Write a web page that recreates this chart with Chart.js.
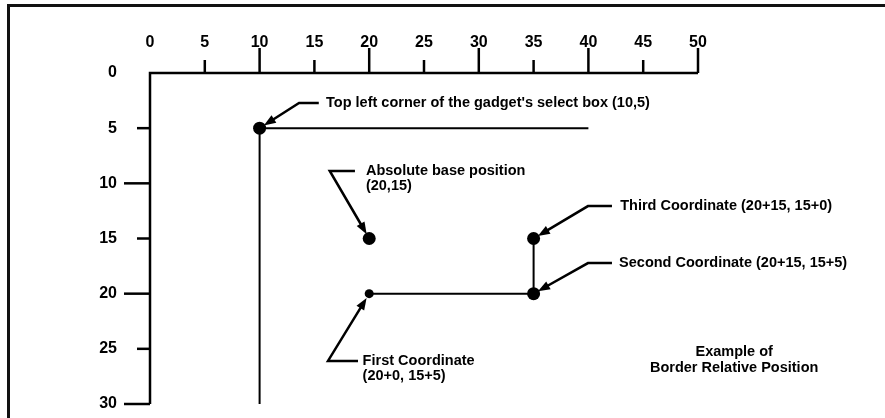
<!DOCTYPE html>
<html><head><meta charset="utf-8">
<script src="https://cdn.jsdelivr.net/npm/chart.js@4/dist/chart.umd.min.js"></script>
<style>html,body{margin:0;padding:0;background:#fff;overflow:hidden}canvas{display:block}</style>
</head><body>
<canvas id="c" width="885" height="418"></canvas>
<script>
// ---- data ----
const xTickValues = [0,5,10,15,20,25,30,35,40,45,50];
const yTickValues = [0,5,10,15,20,25,30];
const selectBoxX = [40,10,10];
const selectBoxY = [5,5,30];
const coordPathX = [20,35,35];
const coordPathY = [20,20,15];
const bigDotX = [10,20,35,35];
const bigDotY = [5,15,20,15];
const smallDotX = [20];
const smallDotY = [20];
const noteTexts = [
  ["Top left corner of the gadget's select box (10,5)"],
  ["Absolute base position","(20,15)"],
  ["Third Coordinate (20+15, 15+0)"],
  ["Second Coordinate (20+15, 15+5)"],
  ["First Coordinate","(20+0, 15+5)"]
];
const noteTargetX = [10,20,35,35,20];
const noteTargetY = [5,15,15,20,20];
const captionText = ["Example of","Border Relative Position"];

// ---- annotation layout (data units) ----
const noteLayout = [
  {ex:13.6, ey:2.72, hx:15.4, tx:16.06},
  {ex:16.4, ey:8.88, hx:18.7, tx:19.7},
  {ex:39.96, ey:12.06, hx:42.15, tx:42.9},
  {ex:39.96, ey:17.23, hx:42.15, tx:42.8},
  {ex:16.24, ey:26.1, hx:18.98, tx:19.4}
];
const captionPos = {x:53.3, y:25.3};

const toPts = (xs, ys) => xs.map((x,i)=>({x, y: ys[i]}));
const tickFont = {family:"'Liberation Sans',Arial,sans-serif", weight:'bold', size:16};
const noteFont = "bold 14.5px 'Liberation Sans', Arial, sans-serif";

const decor = {
  id:'decor',
  beforeDraw(chart){
    const ctx = chart.ctx;
    ctx.save();
    ctx.fillStyle='#fff'; ctx.fillRect(0,0,chart.width,chart.height);
    ctx.strokeStyle='#111'; ctx.lineWidth=3;
    ctx.beginPath(); ctx.moveTo(8.5,418); ctx.lineTo(8.5,5.5); ctx.lineTo(885,5.5); ctx.stroke();
    ctx.restore();
  },
  afterDatasetsDraw(chart){
    const ctx = chart.ctx, xs = chart.scales.x, ys = chart.scales.y;
    ctx.save();
    ctx.strokeStyle='#000'; ctx.fillStyle='#000'; ctx.lineCap='butt';
    // axes
    const x0 = xs.getPixelForValue(0), x50 = xs.getPixelForValue(50);
    const y0 = ys.getPixelForValue(0), y30 = ys.getPixelForValue(30);
    ctx.lineWidth = 2.5;
    ctx.beginPath(); ctx.moveTo(x50, y0); ctx.lineTo(x0, y0); ctx.lineTo(x0, y30); ctx.stroke();
    // ticks
    xTickValues.forEach(v=>{ if(v===0) return; const px=xs.getPixelForValue(v); const len=(v%10===0)?25:13;
      ctx.beginPath(); ctx.moveTo(px,y0); ctx.lineTo(px,y0-len); ctx.stroke(); });
    yTickValues.forEach(v=>{ if(v===0) return; const py=ys.getPixelForValue(v); const len=(v%10===0)?26:13;
      ctx.beginPath(); ctx.moveTo(x0,py); ctx.lineTo(x0-len,py); ctx.stroke(); });
    // notes
    ctx.font = noteFont; ctx.textBaseline='middle'; ctx.textAlign='left';
    noteTexts.forEach((lines,i)=>{
      const L = noteLayout[i];
      const ex = xs.getPixelForValue(L.ex), ey = ys.getPixelForValue(L.ey);
      const hx = xs.getPixelForValue(L.hx), tx = xs.getPixelForValue(L.tx);
      const cx = xs.getPixelForValue(noteTargetX[i]), cy = ys.getPixelForValue(noteTargetY[i]);
      const dx = cx-ex, dy = cy-ey, d = Math.hypot(dx,dy), ux=dx/d, uy=dy/d;
      const tipX = cx-ux*5, tipY = cy-uy*5;
      ctx.lineWidth = 2.5;
      ctx.beginPath(); ctx.moveTo(hx,ey); ctx.lineTo(ex,ey); ctx.lineTo(tipX-ux*6,tipY-uy*6); ctx.stroke();
      const hl=12, hw=4.5;
      ctx.beginPath(); ctx.moveTo(tipX,tipY);
      ctx.lineTo(tipX-ux*hl-uy*hw, tipY-uy*hl+ux*hw);
      ctx.lineTo(tipX-ux*hl+uy*hw, tipY-uy*hl-ux*hw);
      ctx.closePath(); ctx.fill();
      lines.forEach((t,k)=>ctx.fillText(t, tx, ey+k*15));
    });
    ctx.textAlign='center';
    const capX = xs.getPixelForValue(captionPos.x), capY = ys.getPixelForValue(captionPos.y);
    captionText.forEach((t,k)=>ctx.fillText(t, capX, capY+k*16));
    ctx.restore();
  }
};

new Chart(document.getElementById('c'), {
  type:'scatter',
  data:{datasets:[
    {data:toPts(selectBoxX,selectBoxY), showLine:true, borderColor:'#000', borderWidth:2, pointRadius:0, fill:false},
    {data:toPts(coordPathX,coordPathY), showLine:true, borderColor:'#000', borderWidth:2, pointRadius:0, fill:false},
    {data:toPts(bigDotX,bigDotY), showLine:false, pointRadius:6.5, backgroundColor:'#000', borderColor:'#000', borderWidth:0},
    {data:toPts(smallDotX,smallDotY), showLine:false, pointRadius:4.5, backgroundColor:'#000', borderColor:'#000', borderWidth:0}
  ]},
  options:{
    responsive:false, animation:false, events:[],
    layout:{padding:{left:0,top:0,right:187,bottom:14}},
    plugins:{legend:{display:false}, tooltip:{enabled:false}},
    scales:{
      x:{type:'linear', position:'top', min:0, max:50,
        afterFit(s){ s.height = 73; s.paddingLeft = 0; s.paddingRight = 0; },
        grid:{display:false, drawTicks:false}, border:{display:false},
        ticks:{stepSize:5, padding:21, color:'#000', font:tickFont, maxRotation:0, autoSkip:false}},
      y:{type:'linear', position:'left', min:0, max:30, reverse:true,
        afterFit(s){ s.width = 150; s.paddingTop = 0; s.paddingBottom = 0; },
        grid:{display:false, drawTicks:false}, border:{display:false},
        ticks:{stepSize:5, padding:33, color:'#000', font:tickFont, autoSkip:false}}
    }
  },
  plugins:[decor]
});
</script>
</body></html>
